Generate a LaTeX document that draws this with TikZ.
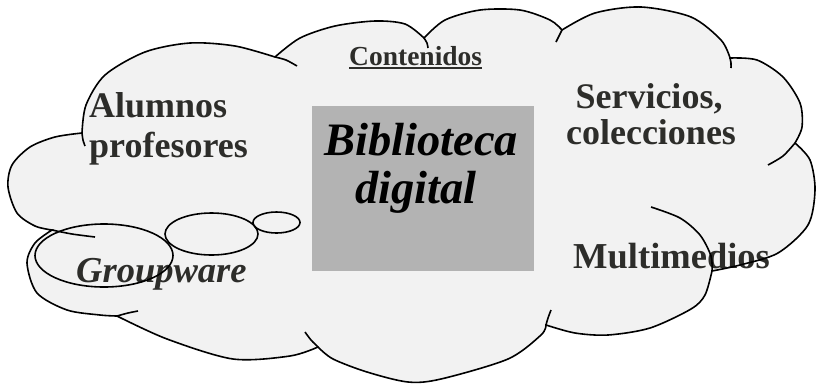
\documentclass[tikz,border=0pt]{standalone}
\usepackage{fontspec}
\setmainfont{Liberation Serif}
\usetikzlibrary{shapes.geometric}
\definecolor{cloudfill}{RGB}{242,242,242}
\definecolor{boxgray}{RGB}{179,179,179}
\definecolor{txtgray}{RGB}{45,45,42}
\newcommand\myul[1]{\setbox0\hbox{#1}\rlap{\rule[-3.5pt]{\wd0}{1.8pt}}\box0}
\newcommand\cloudshape[1]{%
\path[#1]
 plot[smooth] coordinates{(82,133) (86,105) (105,75) (145,52) (190,43) (235,46) (275,57)}
 -- plot[smooth] coordinates{(275,57) (300,38) (335,26) (375,21) (405,24) (424,38)}
 -- plot[smooth] coordinates{(424,38) (445,20) (480,10) (520,10) (550,20) (562,30)}
 -- plot[smooth] coordinates{(562,30) (595,13) (641,7) (691,17) (721,40) (730,58)}
 -- plot[smooth] coordinates{(730,58) (757,60) (783,77) (800,103) (802,127) (795,143)}
 -- plot[smooth] coordinates{(795,143) (810,160) (815,190) (808,225) (778,253) (740,265) (712,271)}
 -- plot[smooth] coordinates{(712,271) (705,295) (691,309) (650,328) (608,335) (575,333) (546,325)}
 -- plot[smooth] coordinates{(546,325) (541,335) (508,359) (441,379) (408,382) (367,372) (333,359) (318,347)}
 -- plot[smooth] coordinates{(318,347) (290,356) (233,359) (167,339) (117,316)}
 -- plot[smooth] coordinates{(117,316) (100,315) (67,310) (37,293) (27,263) (35,243) (52,230)}
 -- plot[smooth] coordinates{(52,230) (35,226) (17,213) (8,187) (12,165) (30,147) (55,137) (82,133)}
 -- cycle;}
\begin{document}
\begin{tikzpicture}[x=1pt,y=-1pt,
  outline/.style={draw=black,line width=1.6pt},
  lbl/.style={inner sep=0pt,text=txtgray,font=\bfseries\fontsize{36}{40}\selectfont},
  ilbl/.style={inner sep=0pt,text=txtgray,font=\bfseries\itshape\fontsize{36.5}{40}\selectfont},
  bubble/.style={ellipse,draw=black,line width=1.6pt,inner sep=0pt}]
\useasboundingbox (0,0) rectangle (816,384);
\fill[white] (0,0) rectangle (816,384);
\cloudshape{fill=cloudfill}
\node[fill=boxgray,minimum width=222pt,minimum height=165pt,inner sep=0pt] (box) at (423,188.5) {};
\node[inner sep=0pt,font=\bfseries\itshape\fontsize{46.5}{48}\selectfont,anchor=base] (bib1) at (421,155) {Biblioteca};
\node[inner sep=0pt,font=\bfseries\itshape\fontsize{46.5}{48}\selectfont,anchor=base] (bib2) at (416,203) {digital};
\node[lbl,anchor=base west] (alu1) at (89,117) {Alumnos};
\node[lbl,anchor=base west] (alu2) at (89,157) {profesores};
\node[lbl,anchor=base] (ser1) at (649,108) {Servicios,};
\node[lbl,anchor=base] (ser2) at (651,144) {colecciones};
\node[lbl,anchor=base west,font=\bfseries\fontsize{36.5}{40}\selectfont] (mul) at (573,268) {Multimedios};
\node[ilbl,anchor=base west] (grp) at (76,282) {Groupware};
\node[inner sep=0pt,text=txtgray,font=\bfseries\fontsize{27.5}{30}\selectfont,anchor=base west] (cont) at (349,65) {\myul{Contenidos}};
\cloudshape{outline}
\draw[outline] plot[smooth] coordinates{(82,133) (83,140) (85,146)};
\draw[outline] plot[smooth] coordinates{(275,57) (286,60) (297,66)};
\draw[outline] plot[smooth] coordinates{(424,38) (427,43) (428,48)};
\draw[outline] plot[smooth] coordinates{(556,42) (559,36) (562,30)};
\draw[outline] plot[smooth] coordinates{(730,58) (731,63) (731,68)};
\draw[outline] plot[smooth] coordinates{(795,143) (783,156) (768,165)};
\draw[outline] plot[smooth] coordinates{(651,207) (680,218) (700,235) (711,256) (712,271)};
\draw[outline] plot[smooth] coordinates{(546,325) (548,318) (551,310)};
\draw[outline] plot[smooth] coordinates{(318,347) (311,340) (305,332)};
\draw[outline] plot[smooth] coordinates{(117,316) (128,313) (138,311)};
\draw[outline] plot[smooth] coordinates{(52,230) (72,234) (95,237)};
\node[bubble,minimum width=138pt,minimum height=63pt] (bub1) at (104,255.5) {};
\node[bubble,minimum width=93pt,minimum height=42pt] (bub2) at (211.5,234) {};
\node[bubble,minimum width=47pt,minimum height=21pt] (bub3) at (276.5,222.5) {};
\end{tikzpicture}
\end{document}
